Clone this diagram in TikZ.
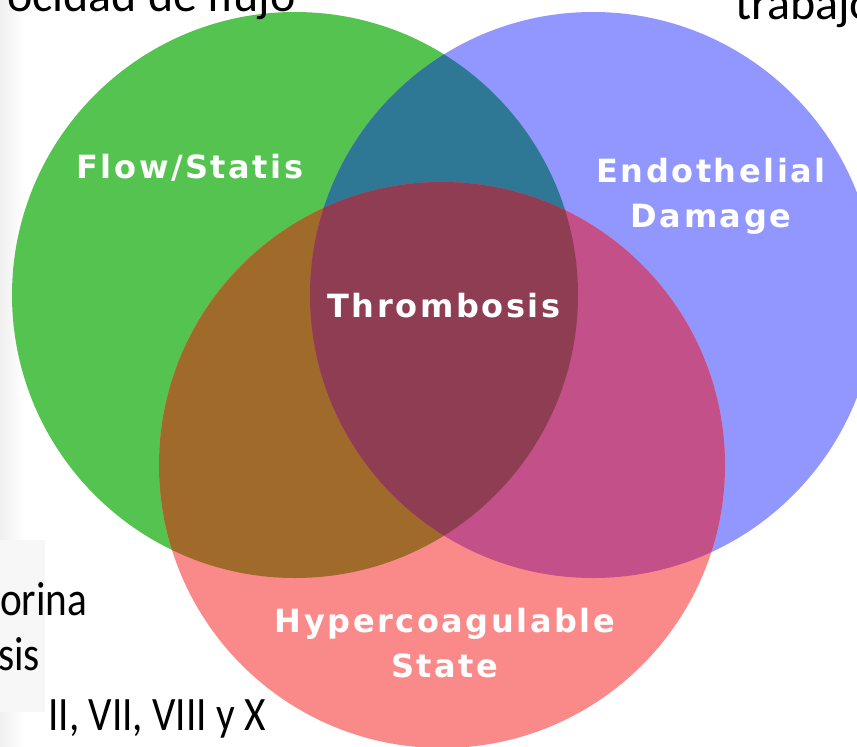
\documentclass[tikz,border=0pt]{standalone}
\usepackage{fontspec}
\usepackage{tikz}
\setmainfont{Carlito}
\newfontfamily\labelfont[LetterSpace=8]{DejaVu Sans Bold}
\newfontfamily\slidefont[FakeStretch=0.86]{Carlito}
\definecolor{flowgreen}{RGB}{85,195,80}
\definecolor{endoblue}{RGB}{145,151,254}
\definecolor{hyperred}{RGB}{250,138,138}
\definecolor{flowendo}{RGB}{46,120,150}
\definecolor{flowhyper}{RGB}{160,106,42}
\definecolor{endohyper}{RGB}{195,80,137}
\definecolor{thrombo}{RGB}{142,61,82}

\begin{document}
\begin{tikzpicture}[x=1pt, y=-1pt,
	venn/.style={text=white, font=\labelfont\fontsize{32}{45}\selectfont, align=center, inner sep=0pt, anchor=base},
	slide/.style={text=black, font=\slidefont\fontsize{48}{57}\selectfont, anchor=base west, inner sep=0pt}]
	\useasboundingbox (0,0) rectangle (857,747);
	\clip (0,0) rectangle (857,747);
	
	% slide background
	\fill[white] (0,0) rectangle (857,747);
	\shade[left color=gray!12, right color=white] (0,0) rectangle (24,747);
	\fill[gray!6] (0,540) rectangle (45,712);
	
	\coordinate (flow) at (295,295);
	\coordinate (endo) at (593,295);
	\coordinate (hyper) at (442,465);
	
	% circles
	\fill[flowgreen] (flow) circle[radius=283pt];
	\fill[endoblue] (endo) circle[radius=283pt];
	\fill[hyperred] (hyper) circle[radius=283pt];
	% Flow and Endothelial
	\begin{scope}
		\clip (flow) circle[radius=283pt];
		\fill[flowendo] (endo) circle[radius=283pt];
	\end{scope}
	% Flow and Hypercoagulable
	\begin{scope}
		\clip (flow) circle[radius=283pt];
		\fill[flowhyper] (hyper) circle[radius=283pt];
	\end{scope}
	% Endothelial and Hypercoagulable
	\begin{scope}
		\clip (endo) circle[radius=283pt];
		\fill[endohyper] (hyper) circle[radius=283pt];
	\end{scope}
	% all three
	\begin{scope}
		\clip (flow) circle[radius=283pt];
		\clip (endo) circle[radius=283pt];
		\fill[thrombo] (hyper) circle[radius=283pt];
	\end{scope}
	
	\node[venn] (flowlabel) at (190,178) {Flow/Statis};
	\node[venn] (endolabel) at (711,227) {Endothelial\\Damage};
	\node[venn] (thrombolabel) at (444,317) {Thrombosis};
	\node[venn] (hyperlabel) at (445,677) {Hypercoagulable\\State};
	
	% text of the slide behind
	\node[slide, font=\fontsize{48}{57}\selectfont] (flujo) at (7,11) {ocidad de flujo};
	\node[slide, font=\fontsize{48}{57}\selectfont] (trabajo) at (735,19) {trabajo};
	\node[slide] (orina) at (0,615) {orina};
	\node[slide] (sis) at (-2,670) {sis};
	\node[slide] (factores) at (48,730) {II, VII, VIII y X};
\end{tikzpicture}
\end{document}
